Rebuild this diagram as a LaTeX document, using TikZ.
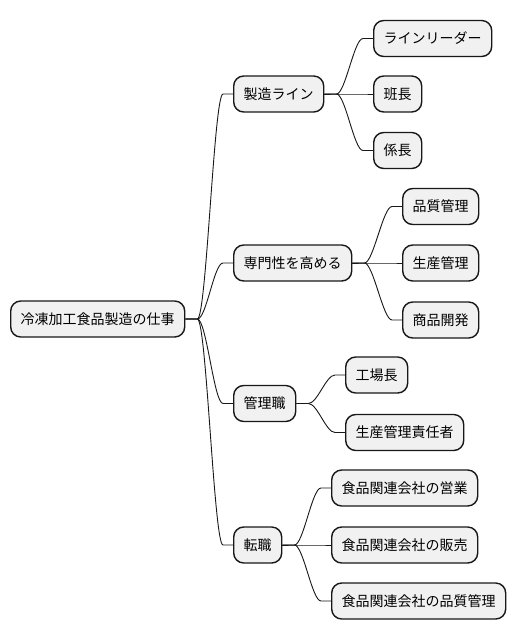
\documentclass[tikz,border=0pt]{standalone}
\usepackage{fontspec}
\setmainfont{Noto Sans CJK JP}
\usetikzlibrary{calc}
\definecolor{boxfill}{HTML}{F1F1F1}
\definecolor{boxline}{HTML}{181818}
\begin{document}
\begin{tikzpicture}[x=1pt,y=-1pt,
  mm/.style={draw=boxline,fill=boxfill,line width=1.4pt,rounded corners=10pt,
    inner xsep=10pt,inner ysep=0pt,minimum height=36pt,anchor=west,
    font=\fontsize{14}{16}\selectfont},
  link/.style={line width=0.9pt,draw=boxline,to path={(\tikztostart.east) -- ++(12,0)
    .. controls +(9,0) and ($(\tikztotarget.west)+(-19,0)$) ..
    ($(\tikztotarget.west)+(-10,0)$) -- (\tikztotarget.west)}}]
\useasboundingbox (0,0) rectangle (516,640);
\node[mm] (root) at (10,319) {冷凍加工食品製造の仕事};
\node[mm] (a) at (233,94) {製造ライン};
\node[mm] (b) at (233,263) {専門性を高める};
\node[mm] (c) at (233,403.5) {管理職};
\node[mm] (d) at (233,545) {転職};
\node[mm] (a1) at (373,38.5) {ラインリーダー};
\node[mm] (a2) at (373,94) {班長};
\node[mm] (a3) at (373,150.5) {係長};
\node[mm] (b1) at (402,206.5) {品質管理};
\node[mm] (b2) at (402,263) {生産管理};
\node[mm] (b3) at (402,320) {商品開発};
\node[mm] (c1) at (345,375) {工場長};
\node[mm] (c2) at (345,432.5) {生産管理責任者};
\node[mm] (d1) at (331,488) {食品関連会社の営業};
\node[mm] (d2) at (331,545) {食品関連会社の販売};
\node[mm] (d3) at (331,601) {食品関連会社の品質管理};
\foreach \p/\c in {root/a,root/b,root/c,root/d,a/a1,a/a2,a/a3,b/b1,b/b2,b/b3,c/c1,c/c2,d/d1,d/d2,d/d3}
  \draw[link] (\p) to (\c);
\end{tikzpicture}
\end{document}
